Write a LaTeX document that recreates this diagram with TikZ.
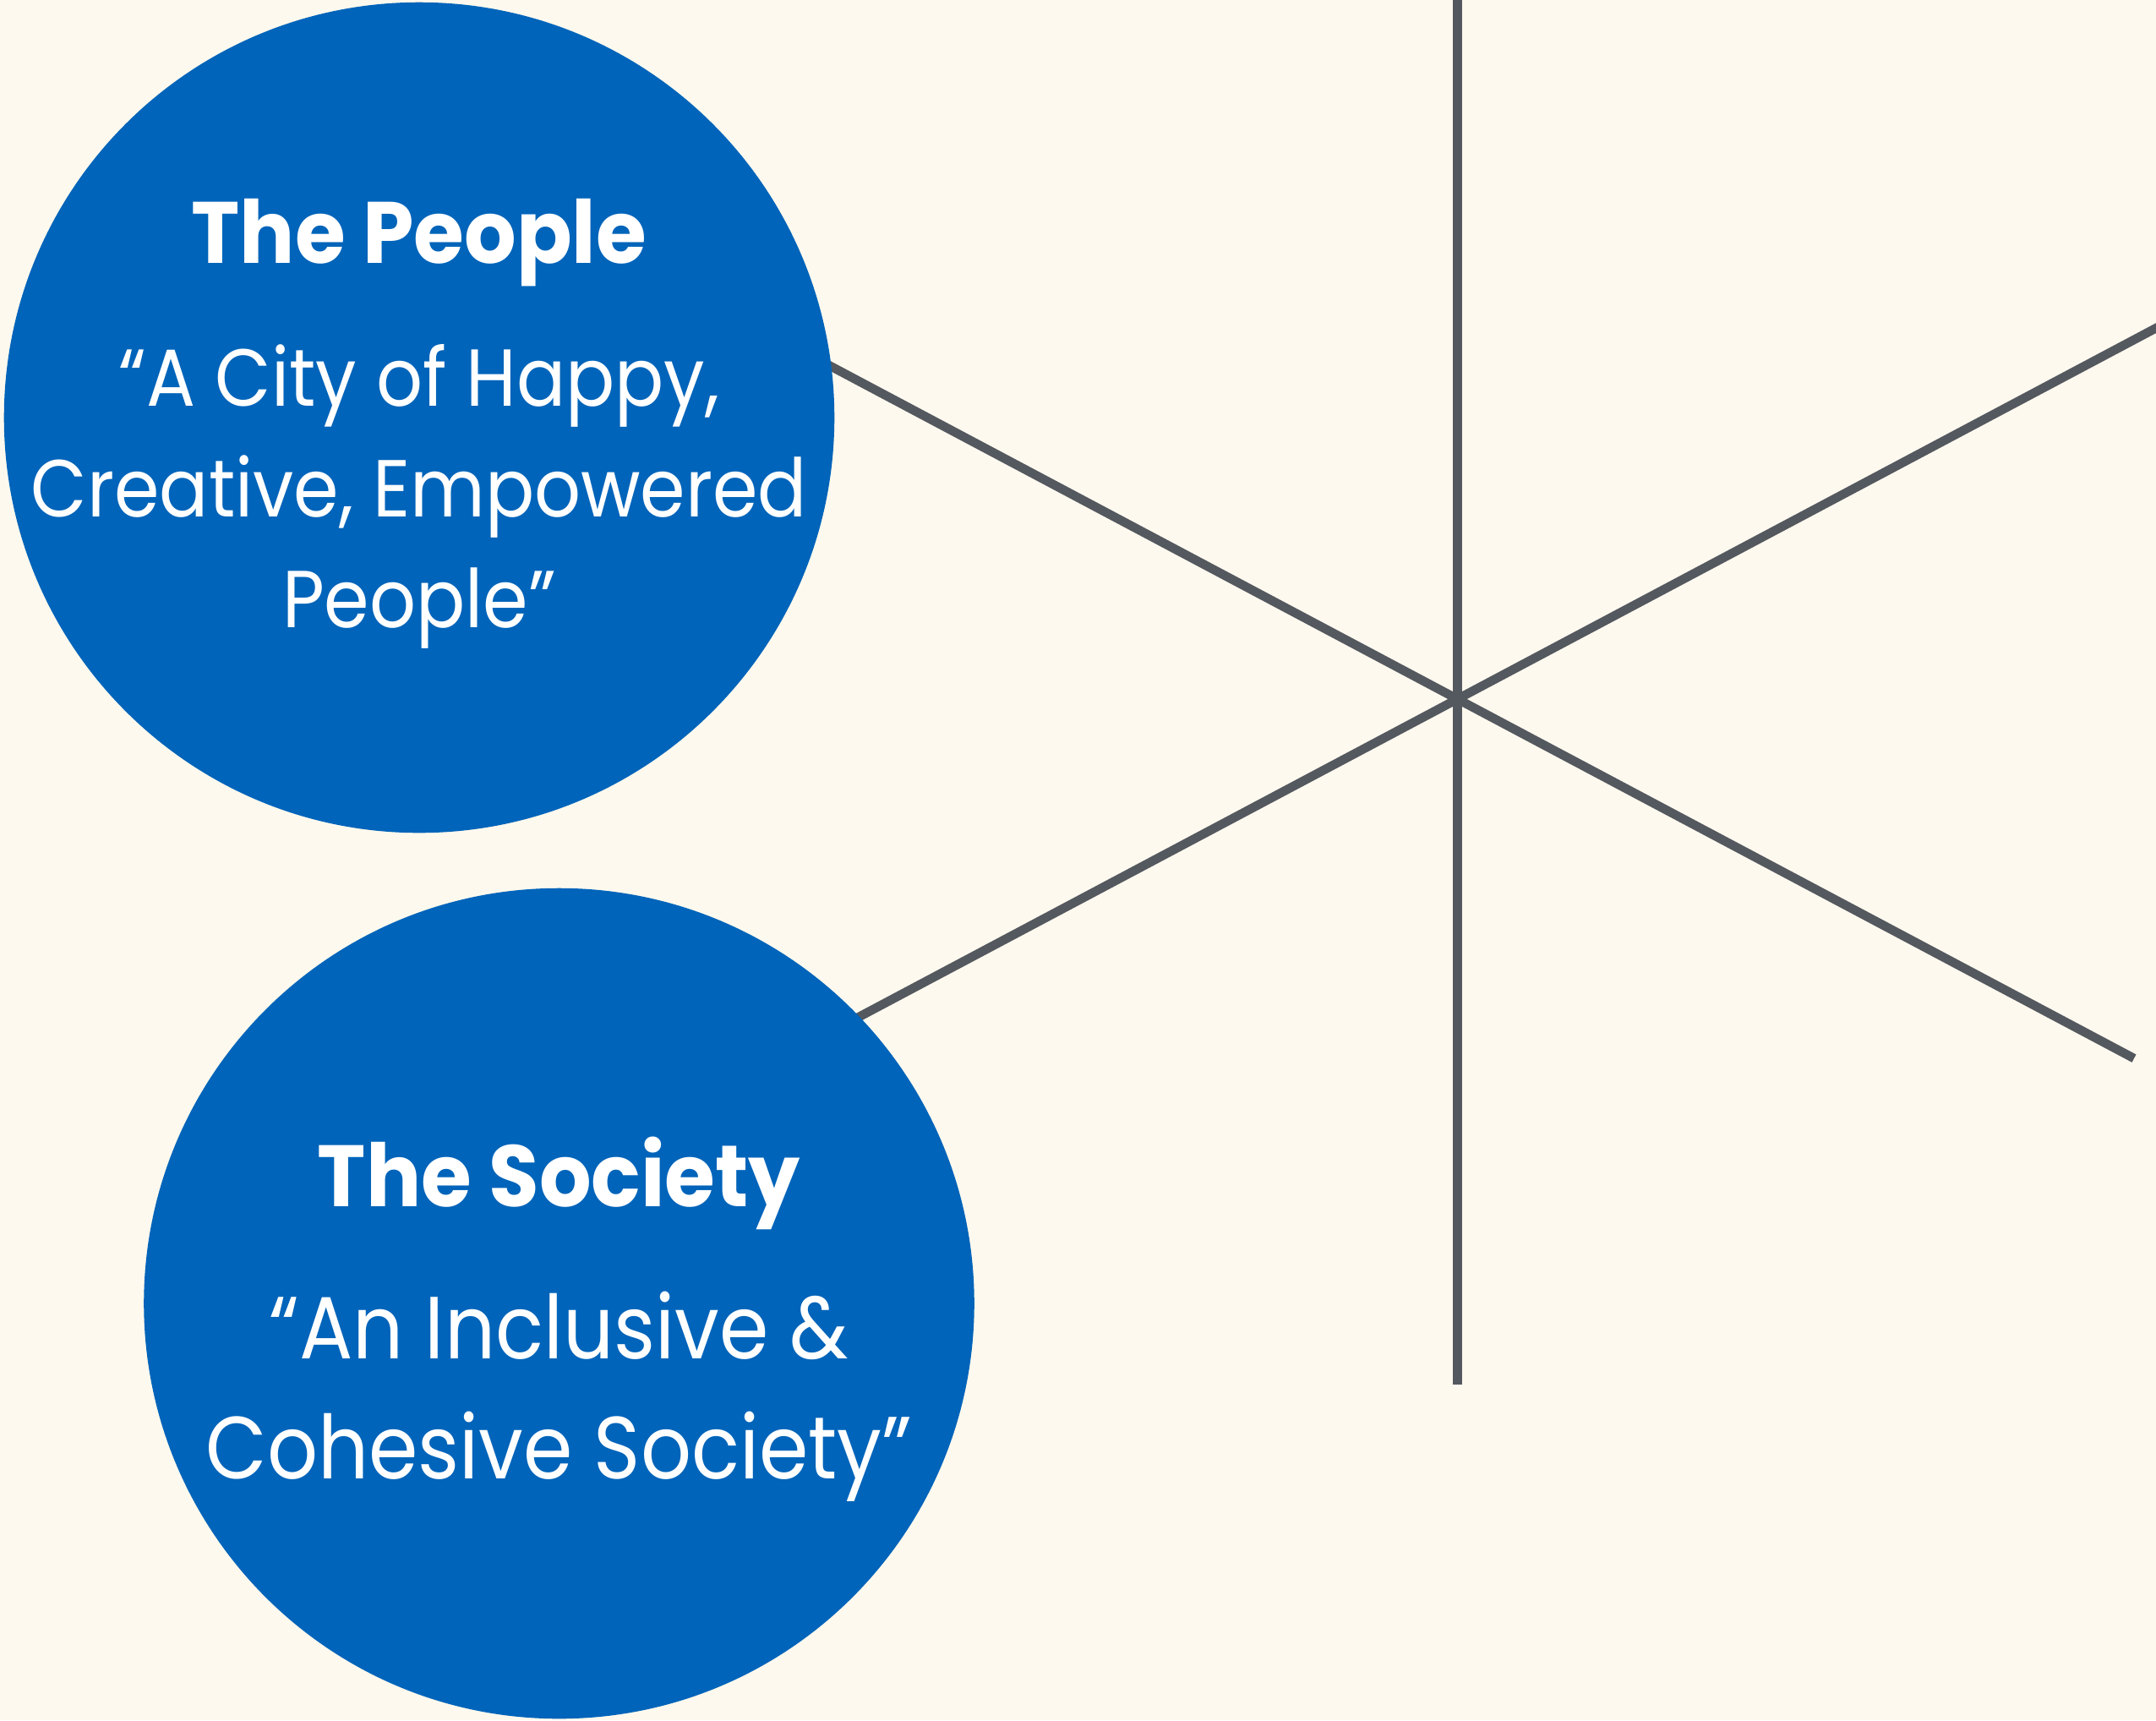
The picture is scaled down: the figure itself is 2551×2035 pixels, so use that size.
\documentclass[tikz,border=0pt]{standalone}
\usepackage{fontspec}
\setmainfont{Poppins}[FakeStretch=0.9]
\newfontfamily\headfont{Poppins}[FakeStretch=0.94]
\definecolor{bg}{HTML}{FEF9EE}
\definecolor{discblue}{HTML}{0064BA}
\definecolor{rulegray}{HTML}{54585F}
\begin{document}
\begin{tikzpicture}[x=0.01cm,y=-0.01cm,
  spoke/.style={draw=rulegray, line width=3pt},
  disc/.style={circle, fill=discblue, inner sep=0pt, minimum size=9.82cm},
  head/.style={text=white, font=\headfont\bfseries\fontsize{29.3}{35}\selectfont, anchor=base, inner sep=0pt},
  quoteA/.style={text=white, font=\fontsize{27.2}{33}\selectfont, anchor=base, inner sep=0pt},
  quoteB/.style={text=white, font=\fontsize{29.7}{36}\selectfont, anchor=base, inner sep=0pt}]
\fill[bg] (0,0) rectangle (2551,2035);
\useasboundingbox (0,0) rectangle (2551,2035);
\clip (0,0) rectangle (2551,2035);
\coordinate (hub) at (1724.5,827);
\coordinate (top) at (1724.5,-20);
\coordinate (bot) at (1724.5,1638);
\coordinate (ul) at (900,389.2);
\coordinate (lr) at (2525,1252.1);
\coordinate (ll) at (900,1264.8);
\coordinate (ur) at (2600,362.1);
\draw[spoke] (top) -- (bot);
\draw[spoke] (ul) -- (lr);
\draw[spoke] (ll) -- (ur);
\node[disc] (people) at (496,494) {};
\node[disc] (society) at (661.5,1542) {};
\node[head] (h1) at (496,311) {The People};
\node[quoteA] (p1) at (496,480) {“A City of Happy,};
\node[quoteA] (p2) at (496,611) {Creative, Empowered};
\node[quoteA] (p3) at (496,742) {People”};
\node[head] (h2) at (661.5,1427) {The Society};
\node[quoteB] (s1) at (661.5,1607) {“An Inclusive \&};
\node[quoteB] (s2) at (661.5,1749) {Cohesive Society”};
\end{tikzpicture}
\end{document}
